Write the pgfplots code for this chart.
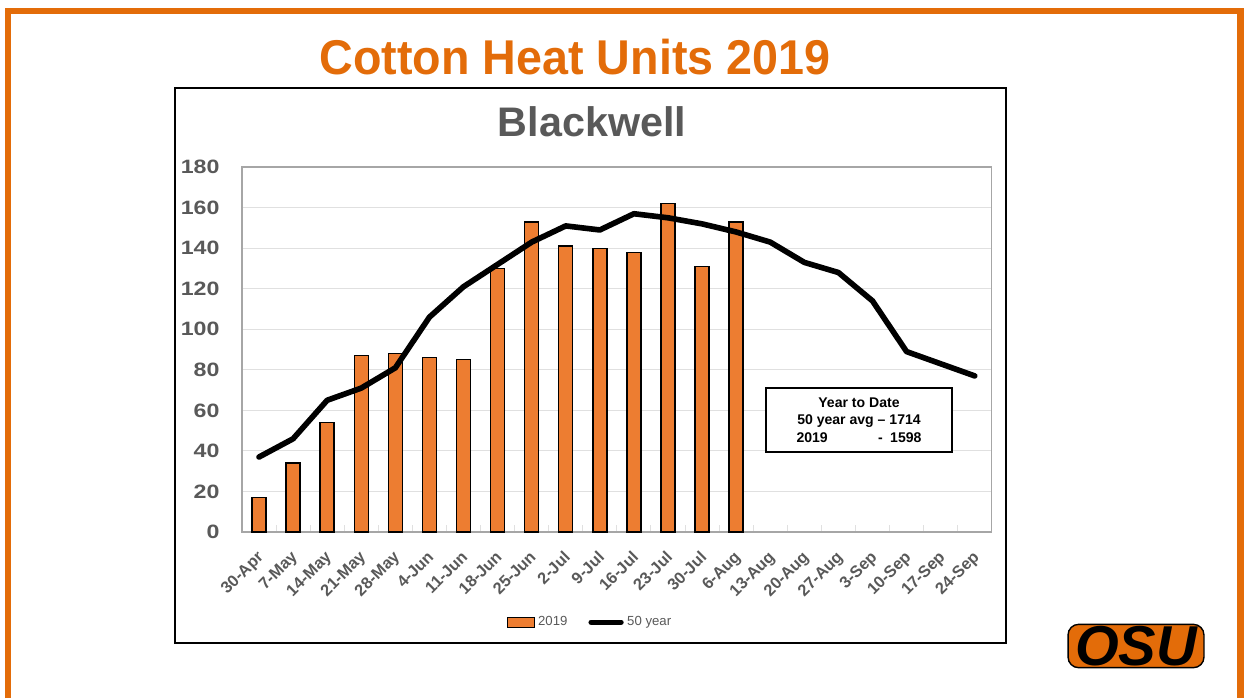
\documentclass[border=0pt]{standalone}
\usepackage{pgfplots}
\pgfplotsset{compat=1.18}
\usepackage{fontspec}
\setmainfont{Liberation Sans}
\definecolor{osuorange}{HTML}{E36C09}
\definecolor{barorange}{HTML}{ED7D31}
\definecolor{txtgray}{HTML}{595959}
\definecolor{gridgray}{HTML}{E0E0E0}
\definecolor{boxgray}{HTML}{A6A6A6}

\begin{document}
\begin{tikzpicture}
\begin{scope}[x=0.02cm,y=0.02cm]
\useasboundingbox (0,0) rectangle (1247,698);
\fill[white] (0,0) rectangle (1247,698);
\draw[osuorange, line width=0.14cm] (8,0) -- (8,687) -- (1240,687) -- (1240,0);
\node[text=osuorange, xscale=0.955, font=\fontsize{27.8}{30}\selectfont\bfseries] at (575,641) {Cotton Heat Units 2019};
\draw[black, line width=1.2pt] (175,55) rectangle (1006,610);
\node[text=txtgray, font=\fontsize{23.5}{26}\selectfont\bfseries] at (592,576) {Blackwell};
\end{scope}

\begin{axis}[
  at={(4.84cm,3.32cm)}, anchor=south west,
  scale only axis, width=15cm, height=7.3cm,
  ymin=0, ymax=180, ytick={0,20,...,180},
  xmin=-0.5, xmax=21.5,
  xtick={0,...,21},
  xticklabels={30-Apr,7-May,14-May,21-May,28-May,4-Jun,11-Jun,18-Jun,25-Jun,2-Jul,9-Jul,16-Jul,23-Jul,30-Jul,6-Aug,13-Aug,20-Aug,27-Aug,3-Sep,10-Sep,17-Sep,24-Sep},
  minor xtick={-0.5,0.5,...,21.5},
  xtick pos=bottom, ytick pos=left,
  tick align=inside,
  major x tick style={draw=none},
  minor x tick style={draw=gridgray, line width=0.6pt},
  minor tick length=0.14cm,
  y tick style={draw=none},
  ymajorgrids, grid style={draw=gridgray, line width=0.6pt},
  axis line style={draw=boxgray, line width=0.7pt},
  /pgf/number format/assume math mode=true,
  yticklabel style={font=\fontsize{11}{12}\selectfont\bfseries, text=txtgray, xshift=-0.3cm, xscale=1.2},
  xticklabel style={xshift=-0.06cm, yshift=-0.35cm, font=\fontsize{9.3}{10}\selectfont\bfseries, text=txtgray, rotate=45, anchor=north east, inner sep=0pt},
  legend style={at={(0.465,-0.247)}, anchor=center, draw=none, fill=none,
    legend columns=2, font=\fontsize{7.5}{8}\selectfont, text=txtgray,
    /tikz/every even column/.append style={column sep=0.35cm}},
]
\addplot[ybar, bar width=0.28cm, fill=barorange, draw=black, line width=0.8pt,
  legend image code/.code={\draw[fill=barorange, draw=black, line width=0.6pt] (0cm,-0.1cm) rectangle (0.54cm,0.1cm);}]
  coordinates {(0,17) (1,34) (2,54) (3,87) (4,88) (5,86) (6,85) (7,130) (8,153) (9,141) (10,140) (11,138) (12,162) (13,131) (14,153)};
\addlegendentry{2019}
\addplot[black, line width=3.2pt, line join=round, line cap=round, mark=none,
  legend image code/.code={\draw[black, line width=3pt, line cap=round] (0cm,0cm) -- (0.6cm,0cm);}]
  coordinates {(0,37) (1,46) (2,65) (3,71) (4,81) (5,106) (6,121) (7,132) (8,143) (9,151) (10,149) (11,157) (12,155) (13,152) (14,148) (15,143) (16,133) (17,128) (18,114) (19,89) (20,83) (21,77)};
\addlegendentry{50 year}
\end{axis}

\begin{scope}[x=0.02cm,y=0.02cm]
\node[draw=black, fill=white, line width=1.2pt, minimum width=3.72cm, minimum height=1.28cm,
  align=center, font=\fontsize{8}{10}\selectfont\bfseries, inner sep=0pt] at (859,278)
  {Year to Date\\50 year avg -- 1714\\\makebox[2.5cm]{2019\hfill-\hspace{0.15cm}1598}};
\node[fill=osuorange, draw=black, line width=0.8pt, rounded corners=6pt, inner xsep=4pt, inner ysep=1pt,
  font=\fontsize{32}{32}\selectfont\bfseries\itshape, text=black] at (1136,52) {OSU};
\end{scope}
\end{tikzpicture}
\end{document}
